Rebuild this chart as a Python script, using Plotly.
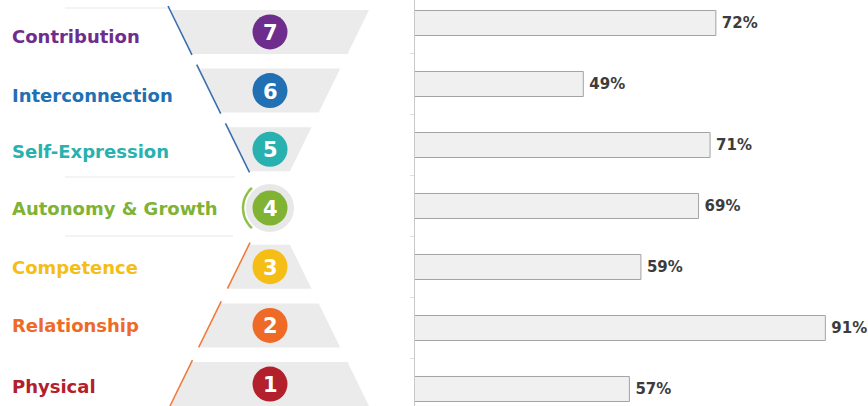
import math
import plotly.graph_objects as go

# ---------------- data ----------------
categories = ["Contribution", "Interconnection", "Self-Expression", "Autonomy & Growth",
              "Competence", "Relationship", "Physical"]
levels = ["7", "6", "5", "4", "3", "2", "1"]
values = [72, 49, 71, 69, 59, 91, 57]
value_labels = ["72%", "49%", "71%", "69%", "59%", "91%", "57%"]
level_colors = ["#6e2d8c", "#2170b4", "#28b1ae", "#80b233", "#f5be17", "#ee6a26", "#b2202c"]

# ---------------- layout constants (pixel space of left drawing) ----------------
W, H = 868, 406
SPLIT = 415               # x pixel where bar axis begins
CX, CY = 270, 208         # funnel centre
ROW_STEP = 58.7
label_y = [36, 95, 151, 208, 267, 325, 386]


def half_width(y):
    return 2 + 0.49 * abs(y - CY)


fig = go.Figure()

# ---- bars ----
fig.add_trace(go.Bar(
    x=values, y=categories, orientation="h",
    width=0.41,
    marker=dict(color="#f0f0f0", line=dict(color="#a3a3a3", width=1)),
    text=["\u2009" + t for t in value_labels], textposition="outside", cliponaxis=False,
    constraintext="none",
    textfont=dict(family="DejaVu Sans", size=15, color="#3c3c3c", weight="bold"),
    hoverinfo="skip", showlegend=False,
))

shapes = []
# faint separators
for (y, x0, x1) in [(8, 65, 170), (177, 65, 235), (236, 65, 233)]:
    shapes.append(dict(type="line", xref="x2", yref="y2", x0=x0, x1=x1, y0=y, y1=y,
                       line=dict(color="#f4f4f4", width=2), layer="below"))

# funnel trapezoids and side lines
n = len(levels)
for i in range(n):
    if i == 3:
        continue
    k = i - 3  # negative upper, positive lower
    top = CY + k * ROW_STEP - 22
    bot = top + 44
    line_col = "#3a6fae" if k < 0 else "#ef7b3c"
    top = max(top, 10)
    bot = min(bot, 406)
    ht, hb = half_width(top), half_width(bot)
    path = (f"M {CX - ht},{top} L {CX + ht},{top} L {CX + hb},{bot} "
            f"L {CX - hb},{bot} Z")
    shapes.append(dict(type="path", xref="x2", yref="y2", path=path,
                       fillcolor="#ebebeb", line=dict(width=0), layer="below"))
    # side line along the outer-left edge, slightly extended
    if k < 0:
        ya, yb = top - 4, bot + 1
    else:
        ya, yb = top - 2, bot
    xa = CX - half_width(ya) - 1
    xb = CX - half_width(yb) - 1
    shapes.append(dict(type="line", xref="x2", yref="y2", x0=xa, y0=ya, x1=xb, y1=yb,
                       line=dict(color=line_col, width=1.6)))

# green arc around level 4
arc_pts = []
for a in range(132, 229, 4):
    t = math.radians(a)
    arc_pts.append((CX + 27 * math.cos(t), CY + 27 * math.sin(t)))
arc_path = "M " + " L ".join(f"{x:.1f},{y:.1f}" for x, y in arc_pts)
shapes.append(dict(type="path", xref="x2", yref="y2", path=arc_path,
                   line=dict(color="#8fc04c", width=2.5)))

# halo behind level 4
fig.add_trace(go.Scatter(
    x=[CX], y=[CY], mode="markers", xaxis="x2", yaxis="y2",
    marker=dict(size=48, color="#e8e8e8"), hoverinfo="skip", showlegend=False))

# numbered circles
circle_y = [CY + (i - 3) * ROW_STEP for i in range(n)]
fig.add_trace(go.Scatter(
    x=[CX] * n, y=circle_y, mode="markers", xaxis="x2", yaxis="y2",
    marker=dict(size=35, color=level_colors),
    hoverinfo="skip", showlegend=False))

annotations = []
for lv, yy in zip(levels, circle_y):
    annotations.append(dict(
        xref="x2", yref="y2", x=CX, y=yy, text=lv, showarrow=False,
        xanchor="center", yanchor="middle", yshift=-1,
        font=dict(family="DejaVu Sans", size=21, color="white", weight="bold")))

# category labels
for cat, col, yy in zip(categories, level_colors, label_y):
    annotations.append(dict(
        xref="x2", yref="y2", x=10, y=yy, text=cat, showarrow=False,
        xanchor="left", yanchor="middle",
        font=dict(family="DejaVu Sans", size=18, color=col, weight="bold")))

fig.update_layout(
    width=W, height=H,
    margin=dict(l=0, r=0, t=0, b=0),
    paper_bgcolor="white", plot_bgcolor="white",
    shapes=shapes, annotations=annotations,
    bargap=0.5,
    xaxis=dict(domain=[SPLIT / W, 1], range=[19.8, 98.4], visible=False, fixedrange=True),
    yaxis=dict(categoryorder="array", categoryarray=categories[::-1],
               range=[-0.279, 6.377], showticklabels=False,
               showline=True, linecolor="#c9c9c9", linewidth=1,
               ticks="outside", tickson="boundaries", ticklen=4, tickcolor="#e0e0e0",
               showgrid=False, zeroline=False, fixedrange=True),
    xaxis2=dict(domain=[0, SPLIT / W], range=[0, SPLIT], visible=False,
                anchor="y2", fixedrange=True),
    yaxis2=dict(domain=[0, 1], range=[H, 0], visible=False, anchor="x2",
                fixedrange=True),
)

fig.write_html("out.html", config={"displayModeBar": False},
               post_script="document.body.style.margin='0';")
